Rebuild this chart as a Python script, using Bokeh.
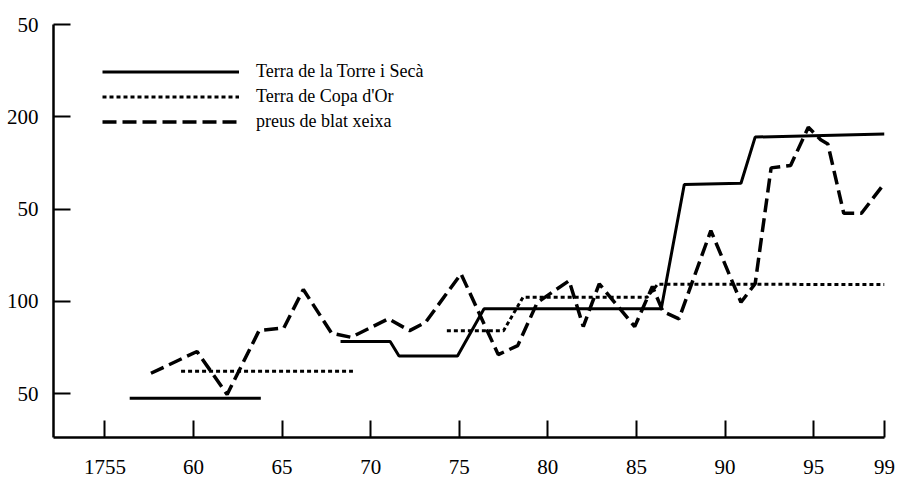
from bokeh.plotting import figure
from bokeh.models import FixedTicker, Legend, LegendItem, Range1d
from bokeh.embed import file_html
from bokeh.resources import INLINE

NaN = float("nan")

# Terra de la Torre i Secà (solid)
torre_years = [1756.4, 1763.8, NaN, 1768.3, 1771.1, 1771.6, 1774.9, 1776.4, 1786.4, 1787.7, 1790.9, 1791.7, 1799.0]
torre_vals = [47.5, 47.5, NaN, 78.2, 78.2, 70.4, 70.4, 96.0, 96.0, 163.3, 164.0, 189.0, 190.6]

# Terra de Copa d'Or (dotted)
copa_years = [1759.3, 1769.0, NaN, 1774.3, 1777.5, 1778.6, 1785.6, 1786.2, 1799.0]
copa_vals = [62.1, 62.1, NaN, 84.1, 84.1, 102.2, 102.2, 109.3, 109.1]

# preus de blat xeixa (dashed)
blat_years = [1757.6, 1760.2, 1761.9, 1763.7, 1765.1, 1766.2, 1767.8, 1768.9, 1771.0, 1772.2,
              1773.1, 1775.1, 1777.2, 1778.3, 1779.4, 1781.2, 1782.0, 1782.9, 1784.9, 1785.9,
              1786.5, 1787.4, 1789.2, 1790.9, 1791.7, 1792.6, 1793.7, 1794.7, 1795.4, 1795.8,
              1796.7, 1797.7, 1799.0]
blat_vals = [61.0, 72.8, 49.5, 84.1, 85.6, 106.4, 82.7, 80.5, 90.5, 84.1,
             88.6, 114.9, 71.1, 76.0, 99.3, 111.2, 86.3, 109.5, 86.3, 108.0,
             94.4, 90.5, 138.3, 99.5, 109.5, 172.3, 173.6, 194.3, 187.5, 185.3,
             147.7, 147.7, 164.0]

x_ticks = [1755, 1760, 1765, 1770, 1775, 1780, 1785, 1790, 1795, 1799]
x_labels = ["1755", "60", "65", "70", "75", "80", "85", "90", "95", "99"]
y_ticks = [50, 100, 150, 200, 250]
y_labels = ["50", "100", "50", "200", "50"]

series_names = ["Terra de la Torre i Secà", "Terra de Copa d'Or", "preus de blat xeixa"]

FONT = "Liberation Serif"

p = figure(width=900, height=480, output_backend="svg", toolbar_location=None,
           x_range=Range1d(1752.1, 1799.0), y_range=Range1d(26.2, 250.0))
p.min_border_left = 53
p.min_border_right = 16
p.min_border_top = 24
p.min_border_bottom = 43
p.outline_line_color = None
p.xgrid.grid_line_color = None
p.ygrid.grid_line_color = None
p.background_fill_color = "white"
p.border_fill_color = "white"

r1 = p.line(torre_years, torre_vals, line_color="black", line_width=3)
r2 = p.line(copa_years, copa_vals, line_color="black", line_width=3, line_dash="4 3")
r3 = p.line(blat_years, blat_vals, line_color="black", line_width=3.5, line_dash="14 6")

for ax in (p.xaxis[0], p.yaxis[0]):
    ax.axis_line_color = "black"
    ax.axis_line_width = 2.5
    ax.major_tick_line_color = "black"
    ax.major_tick_line_width = 2
    ax.major_tick_in = 17
    ax.major_tick_out = 0
    ax.minor_tick_line_color = None
    ax.major_label_text_font = FONT
    ax.major_label_text_font_size = "21px"
    ax.major_label_text_color = "black"

p.xaxis[0].ticker = FixedTicker(ticks=x_ticks)
p.xaxis[0].major_label_overrides = {t: l for t, l in zip(x_ticks, x_labels)}
p.xaxis[0].major_label_standoff = 22
p.yaxis[0].ticker = FixedTicker(ticks=y_ticks)
p.yaxis[0].major_label_overrides = {t: l for t, l in zip(y_ticks, y_labels)}
p.yaxis[0].major_label_standoff = 15

legend = Legend(items=[LegendItem(label=series_names[0], renderers=[r1]),
                       LegendItem(label=series_names[1], renderers=[r2]),
                       LegendItem(label=series_names[2], renderers=[r3])],
                location=(49, 303), orientation="vertical")
legend.glyph_width = 137
legend.glyph_height = 25
legend.label_height = 25
legend.spacing = 0
legend.padding = 0
legend.margin = 0
legend.label_standoff = 17
legend.border_line_color = None
legend.background_fill_alpha = 0
legend.label_text_font = FONT
legend.label_text_font_size = "18px"
legend.label_text_color = "black"
p.add_layout(legend)

open("out.html", "w").write(file_html(p, INLINE))
